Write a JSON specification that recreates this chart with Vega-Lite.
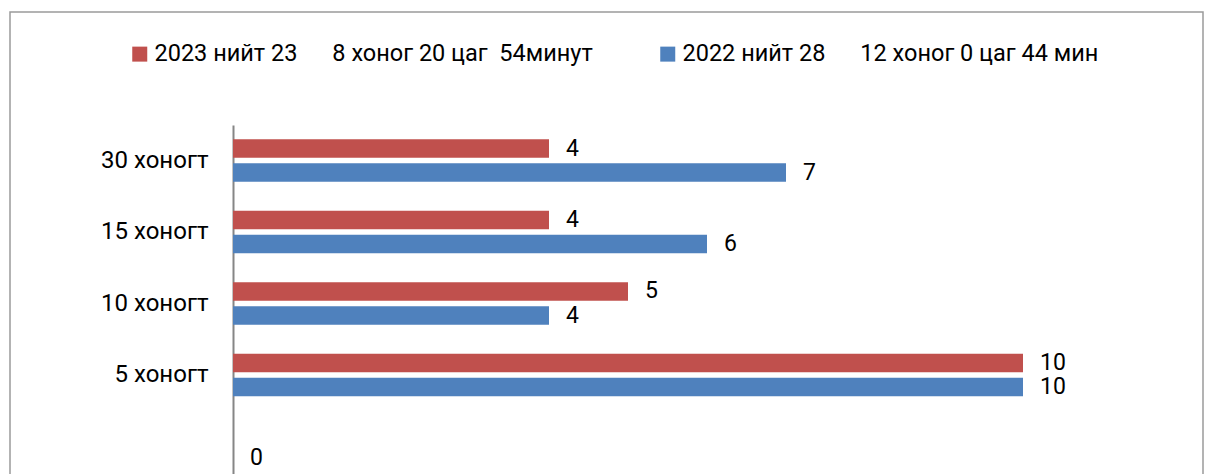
{
  "$schema": "https://vega.github.io/schema/vega-lite/v6.json",
  "width": 1193,
  "height": 462,
  "autosize": {"type": "none"},
  "padding": {"left": 10, "top": 12, "right": 2, "bottom": 0},
  "background": "white",
  "config": {
    "view": {"stroke": "#9b9b9b", "strokeWidth": 1.5, "strokeDash": [1655, 1193, 470, 1]},
    "font": "Roboto",
    "text": {"font": "Roboto"}
  },
  "data": {
    "values": [
      {"cat": "30 хоногт", "series": "2023 нийт 23\u00a0\u00a0\u00a0\u00a0\u00a0\u00a08 хоног 20 цаг\u00a0\u00a054минут", "value": 4},
      {"cat": "30 хоногт", "series": "2022 нийт 28\u00a0\u00a0\u00a0\u00a0\u00a0\u00a012 хоног 0 цаг 44 мин", "value": 7},
      {"cat": "15 хоногт", "series": "2023 нийт 23\u00a0\u00a0\u00a0\u00a0\u00a0\u00a08 хоног 20 цаг\u00a0\u00a054минут", "value": 4},
      {"cat": "15 хоногт", "series": "2022 нийт 28\u00a0\u00a0\u00a0\u00a0\u00a0\u00a012 хоног 0 цаг 44 мин", "value": 6},
      {"cat": "10 хоногт", "series": "2023 нийт 23\u00a0\u00a0\u00a0\u00a0\u00a0\u00a08 хоног 20 цаг\u00a0\u00a054минут", "value": 5},
      {"cat": "10 хоногт", "series": "2022 нийт 28\u00a0\u00a0\u00a0\u00a0\u00a0\u00a012 хоног 0 цаг 44 мин", "value": 4},
      {"cat": "5 хоногт", "series": "2023 нийт 23\u00a0\u00a0\u00a0\u00a0\u00a0\u00a08 хоног 20 цаг\u00a0\u00a054минут", "value": 10},
      {"cat": "5 хоногт", "series": "2022 нийт 28\u00a0\u00a0\u00a0\u00a0\u00a0\u00a012 хоног 0 цаг 44 мин", "value": 10},
      {"cat": " ", "series": "2022 нийт 28\u00a0\u00a0\u00a0\u00a0\u00a0\u00a012 хоног 0 цаг 44 мин", "value": 0}
    ]
  },
  "encoding": {
    "y": {
      "field": "cat",
      "type": "nominal",
      "scale": {
        "domain": ["30 хоногт", "15 хоногт", "10 хоногт", "5 хоногт", " "],
        "range": [113, 470],
        "paddingInner": 0.406,
        "paddingOuter": 0.2
      },
      "axis": {
        "title": null,
        "offset": -223,
        "domainColor": "#868686",
        "domainWidth": 2,
        "ticks": false,
        "grid": false,
        "labelFontSize": 24,
        "labelColor": "black",
        "labelPadding": 25,
        "labelFont": "Roboto"
      }
    },
    "yOffset": {
      "field": "series",
      "type": "nominal",
      "scale": {
        "domain": ["2023 нийт 23\u00a0\u00a0\u00a0\u00a0\u00a0\u00a08 хоног 20 цаг\u00a0\u00a054минут", "2022 нийт 28\u00a0\u00a0\u00a0\u00a0\u00a0\u00a012 хоног 0 цаг 44 мин"],
        "paddingInner": 0.233
      }
    },
    "x": {
      "field": "value",
      "type": "quantitative",
      "scale": {"domain": [0, 10], "range": [223, 1013]},
      "axis": null
    }
  },
  "layer": [
    {
      "mark": {"type": "bar"},
      "encoding": {
        "color": {
          "field": "series",
          "type": "nominal",
          "scale": {
            "domain": ["2023 нийт 23\u00a0\u00a0\u00a0\u00a0\u00a0\u00a08 хоног 20 цаг\u00a0\u00a054минут", "2022 нийт 28\u00a0\u00a0\u00a0\u00a0\u00a0\u00a012 хоног 0 цаг 44 мин"],
            "range": ["#C0504D", "#4F81BD"]
          },
          "legend": {
            "orient": "none",
            "legendX": 118,
            "legendY": 30,
            "direction": "horizontal",
            "columns": 2,
            "title": null,
            "symbolType": "square",
            "symbolSize": 225,
            "symbolStrokeWidth": 0,
            "labelFontSize": 23.5,
            "labelFont": "Roboto",
            "labelColor": "black",
            "labelLimit": 0,
            "labelOffset": 3,
            "columnPadding": 63
          }
        }
      }
    },
    {
      "mark": {"type": "text", "align": "left", "baseline": "middle", "dx": 17, "fontSize": 23, "color": "black"},
      "encoding": {
        "text": {"field": "value", "type": "quantitative"}
      }
    }
  ]
}
